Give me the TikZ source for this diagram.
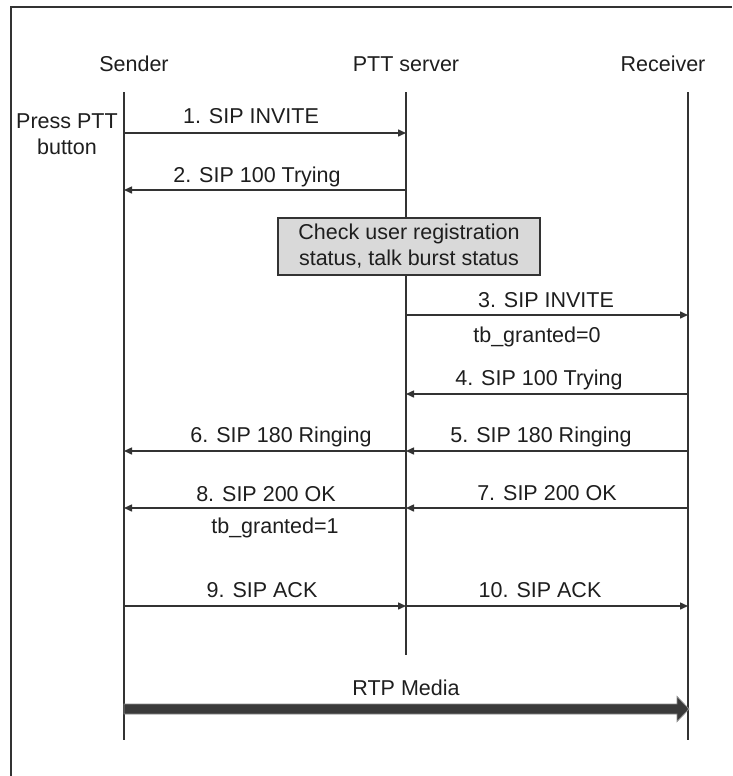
\documentclass[tikz,border=0pt]{standalone}
\usepackage{fontspec}
\setmainfont{Liberation Sans}
\usetikzlibrary{arrows.meta,calc}
\definecolor{ln}{HTML}{333333}
\definecolor{tx}{HTML}{1E1E1E}
\definecolor{boxfill}{HTML}{D9D9D9}
\definecolor{mediafill}{HTML}{3A3A3A}
\definecolor{mediaedge}{HTML}{8A8A8A}
\begin{document}
\begin{tikzpicture}[x=1pt,y=-1pt,
  every node/.style={font=\fontsize{21.5}{26}\selectfont, text=tx},
  lbl/.style={anchor=base, inner sep=0pt},
  life/.style={draw=ln, line width=1.5pt},
  msg/.style={draw=ln, line width=1.5pt, -{Triangle[length=8pt,width=7pt]}},
  chkbox/.style={draw=ln, line width=1.5pt, fill=boxfill, minimum width=262pt, minimum height=57pt, align=center, inner sep=0pt},
  media/.style={fill=mediafill, draw=mediaedge, line width=0.8pt, line join=miter}]
\useasboundingbox (0,0) rectangle (732,776);
% frame
\draw[ln, line width=1.2pt] (11,776) -- (11,7) -- (732,7);
% headers
\node[lbl] (hS) at (134,71) {Sender};
\node[lbl] (hP) at (406,71) {PTT server};
\node[lbl] (hR) at (663,71) {Receiver};
\node[lbl] (press) at (67,128) {Press PTT};
\node[lbl] (button) at (67,154) {button};
% lifelines
\coordinate (S0) at (124,92); \coordinate (S1) at (124,740);
\coordinate (P0) at (406,92); \coordinate (P1) at (406,655);
\coordinate (R0) at (688,92); \coordinate (R1) at (688,740);
\node[chkbox] (chk) at (409,246.5) {Check user registration\\status, talk burst status};
\draw[life] (S0) -- (S1);
\draw[life] (R0) -- (R1);
\draw[life] (P0) -- (chk.north -| P0);
\draw[life] (chk.south -| P0) -- (P1);
% message end points
\coordinate (m1a) at (124,133); \coordinate (m1b) at (406,133);
\coordinate (m2a) at (406,190); \coordinate (m2b) at (124,190);
\coordinate (m3a) at (406,315); \coordinate (m3b) at (688,315);
\coordinate (m4a) at (688,394); \coordinate (m4b) at (406,394);
\coordinate (m5a) at (688,451); \coordinate (m5b) at (406,451);
\coordinate (m6a) at (406,451); \coordinate (m6b) at (124,451);
\coordinate (m7a) at (688,508); \coordinate (m7b) at (406,508);
\coordinate (m8a) at (406,508); \coordinate (m8b) at (124,508);
\coordinate (m9a) at (124,606); \coordinate (m9b) at (406,606);
\coordinate (m10a) at (406,606); \coordinate (m10b) at (688,606);
\coordinate (rtpa) at (124,709); \coordinate (rtpb) at (689,709);
% messages
\draw[msg] (m1a) -- (m1b);
\draw[msg] (m2a) -- (m2b);
\draw[msg] (m3a) -- (m3b);
\draw[msg] (m4a) -- (m4b);
\draw[msg] (m5a) -- (m5b);
\draw[msg] (m6a) -- (m6b);
\draw[msg] (m7a) -- (m7b);
\draw[msg] (m8a) -- (m8b);
\draw[msg] (m9a) -- (m9b);
\draw[msg] (m10a) -- (m10b);
% RTP media block arrow
\draw[media] ($(rtpa)+(0,-5)$) -- ($(rtpb)+(-12,-5)$) -- ($(rtpb)+(-12,-12.5)$)
  -- (rtpb) -- ($(rtpb)+(-12,12.5)$) -- ($(rtpb)+(-12,5)$) -- ($(rtpa)+(0,5)$) -- cycle;
% labels
\node[lbl] (l1) at (251,123) {1. SIP INVITE};
\node[lbl] (l2) at (257,182) {2. SIP 100 Trying};
\node[lbl] (l3) at (546,307) {3. SIP INVITE};
\node[lbl] (l3b) at (537,342) {tb\_granted=0};
\node[lbl] (l4) at (539,385) {4. SIP 100 Trying};
\node[lbl] (l5) at (541,442) {5. SIP 180 Ringing};
\node[lbl] (l6) at (281,442) {6. SIP 180 Ringing};
\node[lbl] (l7) at (547,500) {7. SIP 200 OK};
\node[lbl] (l8) at (266,501) {8. SIP 200 OK};
\node[lbl] (l8b) at (275,533) {tb\_granted=1};
\node[lbl] (l9) at (262,597) {9. SIP ACK};
\node[lbl] (l10) at (540,597) {10. SIP ACK};
\node[lbl] (lrtp) at (406,695) {RTP Media};
\end{tikzpicture}
\end{document}
